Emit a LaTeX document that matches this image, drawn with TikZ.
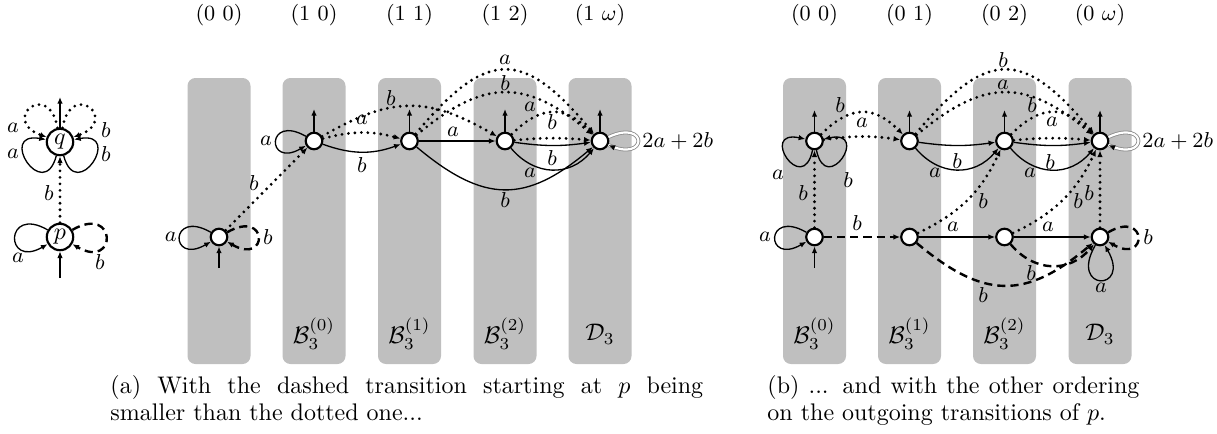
\documentclass[tikz,border=0pt]{standalone}
\usetikzlibrary{arrows.meta}
\hyphenpenalty=10000
\exhyphenpenalty=10000
\tolerance=10000
\begin{document}
\begin{tikzpicture}[x=0.4167pt,y=0.4167pt,
  st/.style={circle,draw,fill=white,line width=0.9pt,minimum size=6.9pt,inner sep=0pt},
  bigst/.style={circle,draw,fill=white,line width=0.9pt,minimum size=11pt,inner sep=0pt},
  colbox/.style={fill=black!25,rounded corners=3.3pt},
  lbl/.style={font=\fontsize{9}{10}\selectfont,inner sep=0pt},
  hdr/.style={font=\fontsize{9}{10}\selectfont,inner sep=0pt},
  clbl/.style={font=\normalsize,inner sep=0pt},
  captext/.style={anchor=north west,align=justify,inner sep=0pt,font=\fontsize{10}{11.25}\selectfont},
  tip/.style={-{Latex[length=2.8pt,width=2.3pt]}},
  sol/.style={line width=0.55pt,tip},
  dotl/.style={line width=1.3pt,dash pattern=on 0pt off 2.7pt,line cap=round,tip},
  dashl/.style={line width=1pt,dash pattern=on 3.4pt off 2.1pt,tip},
  dbl/.style={draw=black!45,double=white,double distance=0.9pt,line width=0.35pt},
]
\useasboundingbox (0,0) rectangle (1217,-433);

% columns
\foreach \x in {219,314,409.5,505,600,814.5,909.5,1004.5,1100}
  \fill[colbox] (\x-31.5,-78) rectangle (\x+31.5,-364);

% headers
\node[hdr] (h1) at (219,-15.5) {(0 0)};
\node[hdr] (h2) at (314,-15.5) {(1 0)};
\node[hdr] (h3) at (409.5,-15.5) {(1 1)};
\node[hdr] (h4) at (505,-15.5) {(1 2)};
\node[hdr] (h5) at (600,-15.5) {(1 $\omega$)};
\node[hdr] (h6) at (814.5,-15.5) {(0 0)};
\node[hdr] (h7) at (909.5,-15.5) {(0 1)};
\node[hdr] (h8) at (1004.5,-15.5) {(0 2)};
\node[hdr] (h9) at (1100,-15.5) {(0 $\omega$)};

% column labels
\node[clbl] (c1) at (314,-334) {$\mathcal{B}_3^{(0)}$};
\node[clbl] (c2) at (409.5,-334) {$\mathcal{B}_3^{(1)}$};
\node[clbl] (c3) at (505,-334) {$\mathcal{B}_3^{(2)}$};
\node[clbl] (c4) at (600,-334) {$\mathcal{D}_3$};
\node[clbl] (c5) at (814.5,-334) {$\mathcal{B}_3^{(0)}$};
\node[clbl] (c6) at (909.5,-334) {$\mathcal{B}_3^{(1)}$};
\node[clbl] (c7) at (1004.5,-334) {$\mathcal{B}_3^{(2)}$};
\node[clbl] (c8) at (1100,-334) {$\mathcal{D}_3$};

% ---------- left automaton ----------
\node[bigst] (q) at (60,-142) {$q$};
\node[bigst] (p) at (60,-237) {$p$};
\coordinate (qf) at (60,-97);
\coordinate (pin) at (60,-278);
\draw[sol] (q) -- (qf);
\draw[sol] (pin) -- (p);
\draw[dotl] (p) -- (q);
\draw[dotl] (q.100) .. controls +(100:50) and +(160:50) .. (q.160);
\draw[dotl] (q.80) .. controls +(80:50) and +(20:50) .. (q.20);
\draw[sol] (q.255) .. controls +(255:50) and +(170:50) .. (q.170);
\draw[sol] (q.285) .. controls +(285:50) and +(10:50) .. (q.10);
\draw[sol] (p.150) .. controls +(150:50) and +(210:50) .. (p.210);
\draw[dashl] (p.30) .. controls +(30:52) and +(-30:52) .. (p.-30);
\node[lbl] (L1) at (13,-128) {$a$};
\node[lbl] (L2) at (106,-130) {$b$};
\node[lbl] (L3) at (13,-154) {$a$};
\node[lbl] (L4) at (106,-154) {$b$};
\node[lbl] (L5) at (49,-193) {$b$};
\node[lbl] (L6) at (18,-258) {$a$};
\node[lbl] (L7) at (100,-262) {$b$};

% ---------- panel (a) ----------
\node[st] (a0) at (219,-237) {};
\node[st] (a1) at (314,-141) {};
\node[st] (a2) at (409.5,-141) {};
\node[st] (a3) at (505,-141) {};
\node[st] (a4) at (600,-141) {};
\coordinate (a0i) at (219,-268);
\coordinate (a1f) at (314,-109);
\coordinate (a2f) at (409.5,-109);
\coordinate (a3f) at (505,-109);
\coordinate (a4f) at (600,-109);
\draw[sol] (a0i) -- (a0);
\draw[sol] (a1) -- (a1f);
\draw[sol] (a2) -- (a2f);
\draw[sol] (a3) -- (a3f);
\draw[sol] (a4) -- (a4f);
\draw[sol] (a0.150) .. controls +(150:48) and +(210:48) .. (a0.210);
\draw[dashl] (a0.30) .. controls +(30:48) and +(-30:48) .. (a0.-30);
\draw[dotl] (a0) -- (a1);
\draw[sol] (a1.150) .. controls +(150:46) and +(210:46) .. (a1.210);
\draw[dotl] (a1) to[bend left=15] (a2);
\draw[sol] (a1) to[bend right=20] (a2);
\draw[dotl] (a1) to[bend left=30,looseness=1.18] (a3);
\draw[sol] (a2) -- (a3);
\draw[dotl] (a2) to[out=50,in=130,looseness=1.6] (a4);
\draw[dotl] (a2) to[out=40,in=140,looseness=1.28] (a4);
\draw[sol] (a2) to[out=-40,in=-140,looseness=1.28] (a4);
\draw[dotl] (a3) to[bend left=45,looseness=1.3] (a4);
\draw[dotl] (a3) to[bend left=5] (a4);
\draw[sol] (a3) to[bend right=8] (a4);
\draw[sol] (a3) to[bend right=50,looseness=1.15] (a4);
\draw[dbl] (a4.25) .. controls +(25:44) and +(-25:44) .. (a4.-25);
\draw[sol] (a4.-25) ++(-25:5) -- (a4.-25);
\node[lbl,anchor=west] (a4l) at (642,-141) {$2a+2b$};
\node[lbl] (La1) at (170.7,-237) {$a$};
\node[lbl] (La2) at (268,-237) {$b$};
\node[lbl] (La3) at (254,-183) {$b$};
\node[lbl] (La4) at (266,-141) {$a$};
\node[lbl] (La5) at (362,-120) {$a$};
\node[lbl] (La6) at (362,-165) {$b$};
\node[lbl] (La7) at (391,-98) {$b$};
\node[lbl] (La8) at (453,-132) {$a$};
\node[lbl] (La9) at (505,-60) {$a$};
\node[lbl] (La10) at (505,-83) {$b$};
\node[lbl] (La11) at (530,-107) {$a$};
\node[lbl] (La12) at (552,-122) {$b$};
\node[lbl] (La13) at (552,-158) {$b$};
\node[lbl] (La14) at (530,-173) {$a$};
\node[lbl] (La15) at (505,-200) {$b$};

% ---------- panel (b) ----------
\node[st] (t0) at (814.5,-141) {};
\node[st] (t1) at (909.5,-141) {};
\node[st] (t2) at (1004.5,-141) {};
\node[st] (t3) at (1100,-141) {};
\node[st] (b0) at (814.5,-237) {};
\node[st] (b1) at (909.5,-237) {};
\node[st] (b2) at (1004.5,-237) {};
\node[st] (b3) at (1100,-237) {};
\coordinate (t0f) at (814.5,-110);
\coordinate (t1f) at (909.5,-110);
\coordinate (t2f) at (1004.5,-110);
\coordinate (t3f) at (1100,-110);
\coordinate (b0i) at (814.5,-268);
\draw[sol] (t0) -- (t0f);
\draw[sol] (t1) -- (t1f);
\draw[sol] (t2) -- (t2f);
\draw[sol] (t3) -- (t3f);
\draw[sol] (b0i) -- (b0);
\draw[sol] (t0.258) .. controls +(258:48) and +(168:48) .. (t0.168);
\draw[sol] (t0.282) .. controls +(282:48) and +(12:48) .. (t0.12);
\draw[sol] (b0.150) .. controls +(150:48) and +(210:48) .. (b0.210);
\draw[dotl] (b0) -- (t0);
\draw[dashl] (b0) -- (b1);
\draw[dotl] (t0) to[bend left=45,looseness=1.3] (t1);
\draw[dotl] (t0) to[bend left=8] (t1);
\draw[sol] (t1) to[bend right=8] (t2);
\draw[sol] (t1) to[bend right=50,looseness=1.15] (t2);
\draw[dotl] (t1) to[out=50,in=130,looseness=1.6] (t3);
\draw[dotl] (t1) to[out=40,in=140,looseness=1.28] (t3);
\draw[dotl] (t2) to[bend left=45,looseness=1.3] (t3);
\draw[dotl] (t2) to[bend left=5] (t3);
\draw[sol] (t2) to[bend right=8] (t3);
\draw[sol] (t2) to[bend right=50,looseness=1.15] (t3);
\draw[dbl] (t3.25) .. controls +(25:44) and +(-25:44) .. (t3.-25);
\draw[sol] (t3.-25) ++(-25:5) -- (t3.-25);
\node[lbl,anchor=west] (t3l) at (1142,-141) {$2a+2b$};
\draw[dotl] (b1) to[bend right=20] (t2);
\draw[dotl] (b2) to[bend right=20] (t3);
\draw[dotl] (b3) -- (t3);
\draw[sol] (b1) -- (b2);
\draw[sol] (b2) -- (b3);
\draw[dashl] (b1) to[out=-40,in=-140,looseness=1.28] (b3);
\draw[dashl] (b2) to[bend right=50,looseness=1.15] (b3);
\draw[sol] (b3.240) .. controls +(240:54) and +(300:54) .. (b3.300);
\draw[dashl] (b3.30) .. controls +(30:46) and +(-30:46) .. (b3.-30);
\node[lbl] (Lb1) at (778,-175) {$a$};
\node[lbl] (Lb2) at (848,-180) {$b$};
\node[lbl] (Lb3) at (840,-105) {$b$};
\node[lbl] (Lb4) at (862,-123) {$a$};
\node[lbl] (Lb5) at (957,-161) {$b$};
\node[lbl] (Lb6) at (935,-173) {$a$};
\node[lbl] (Lb7) at (1003,-60) {$b$};
\node[lbl] (Lb8) at (1003,-85) {$a$};
\node[lbl] (Lb9) at (1032,-105) {$b$};
\node[lbl] (Lb10) at (1052,-122) {$a$};
\node[lbl] (Lb11) at (1050,-162) {$b$};
\node[lbl] (Lb12) at (1030,-173) {$a$};
\node[lbl] (Lb13) at (803,-193) {$b$};
\node[lbl] (Lb14) at (765,-237) {$a$};
\node[lbl] (Lb15) at (857,-223) {$b$};
\node[lbl] (Lb16) at (983,-201) {$b$};
\node[lbl] (Lb17) at (953,-227) {$a$};
\node[lbl] (Lb18) at (1048,-227) {$a$};
\node[lbl] (Lb19) at (1078,-201) {$b$};
\node[lbl] (Lb20) at (1089,-193) {$b$};
\node[lbl] (Lb21) at (1148,-237) {$b$};
\node[lbl] (Lb22) at (1101,-288) {$a$};
\node[lbl] (Lb23) at (1031,-273) {$b$};
\node[lbl] (Lb24) at (983,-295) {$b$};

% captions
\node[captext,text width=247pt] (capa) at (110,-375)
  {(a) With the dashed transition starting at $p$ being\linebreak smaller than the dotted one...};
\node[captext,text width=155pt] (capb) at (767,-375)
  {(b) ... and with the other ordering\linebreak on the outgoing transitions of $p$.};
\end{tikzpicture}
\end{document}
